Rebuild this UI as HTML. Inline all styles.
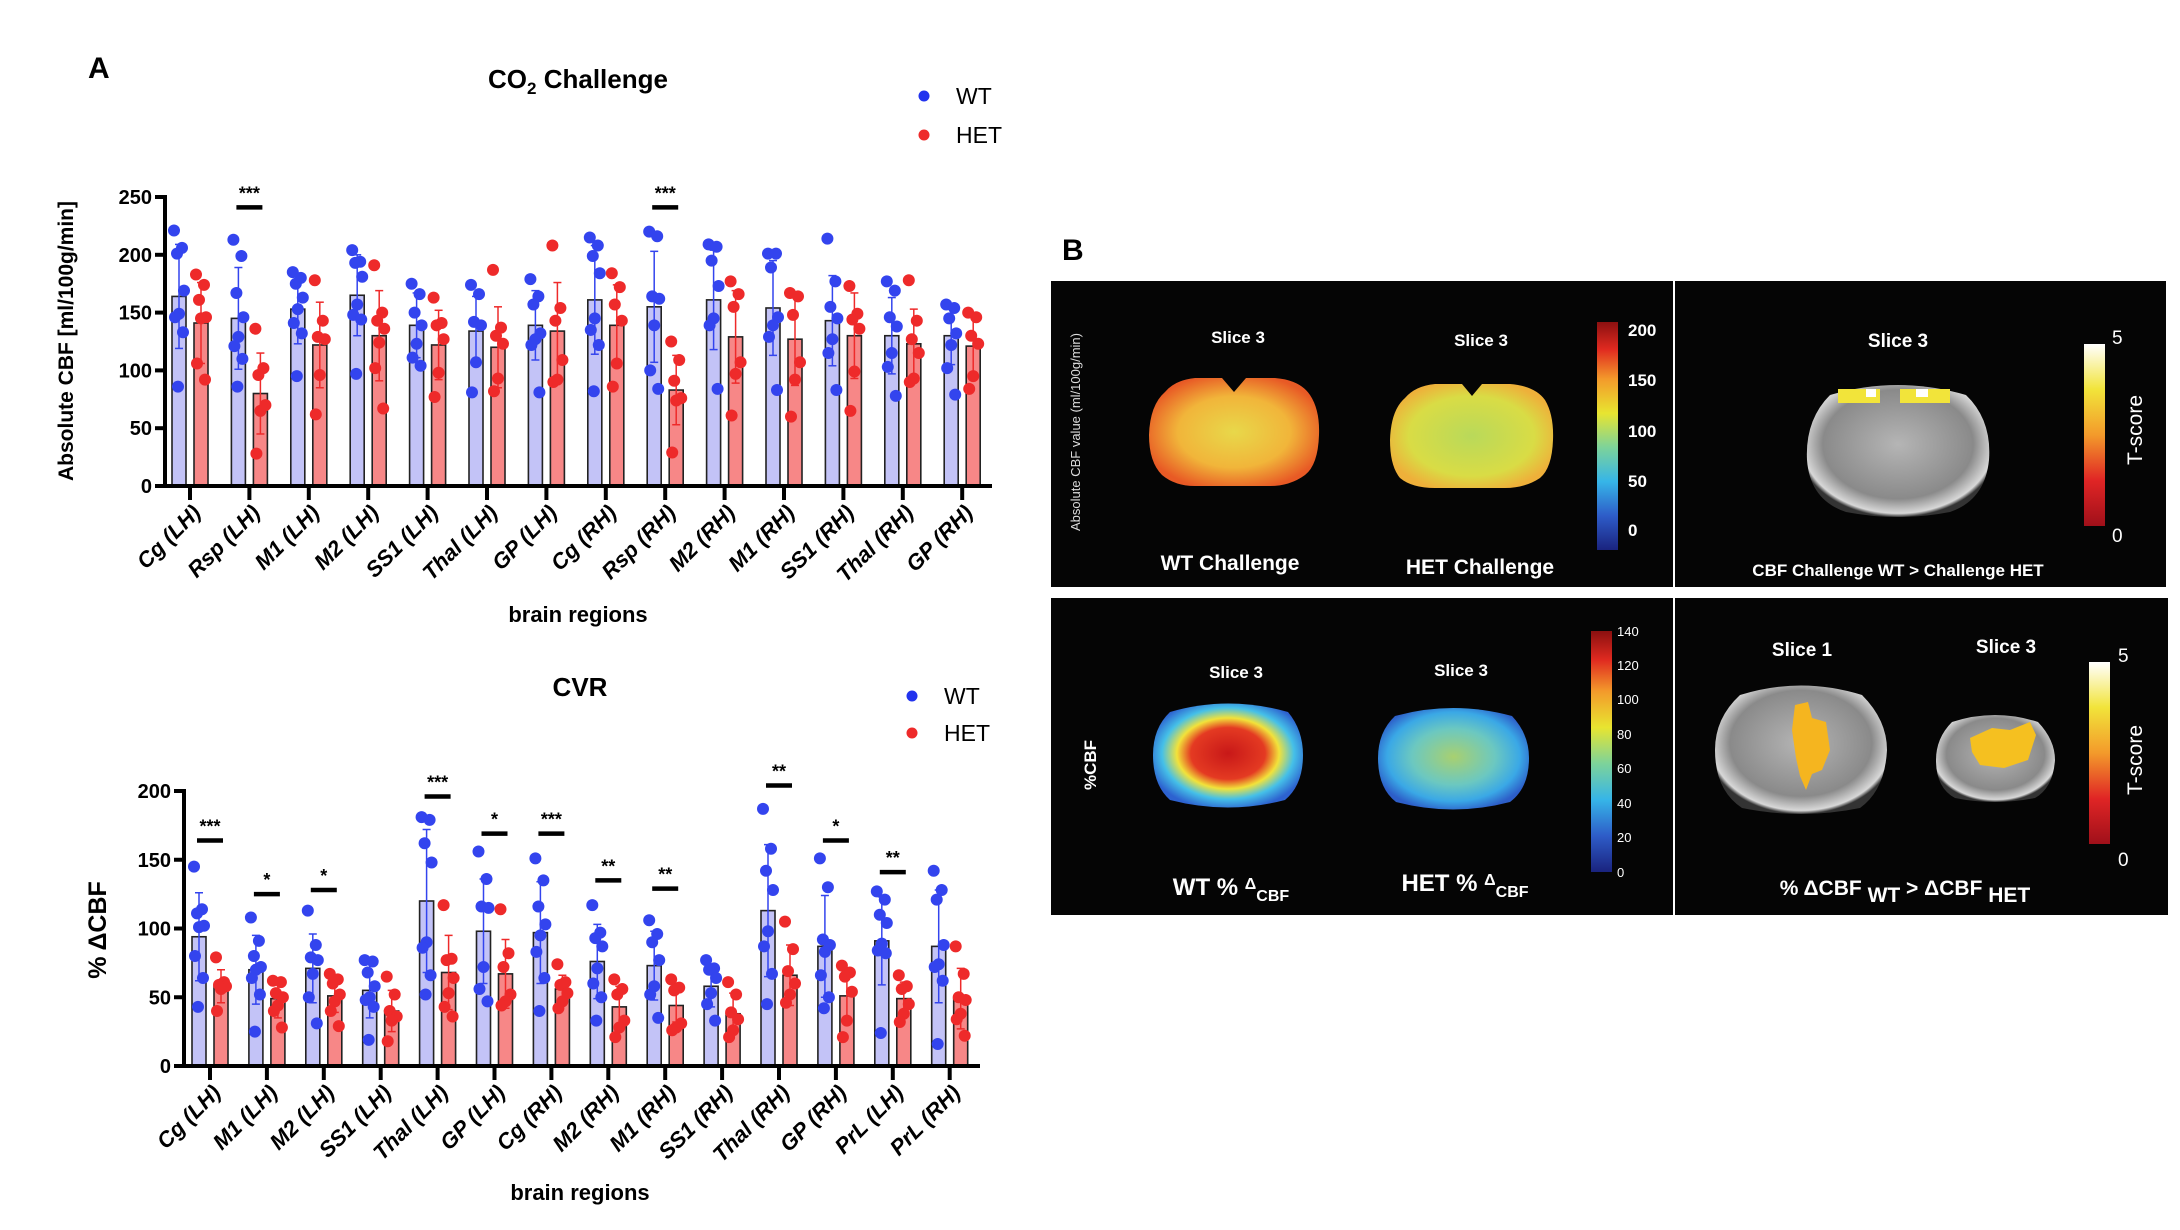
<!DOCTYPE html>
<html><head><meta charset="utf-8">
<style>
html,body{margin:0;padding:0;background:#fff;}
body{width:2180px;height:1230px;overflow:hidden;position:relative;font-family:"Liberation Sans",sans-serif;}
svg{position:absolute;left:0;top:0;}
</style></head>
<body>
<svg id="main" width="2180" height="1230" viewBox="0 0 2180 1230" xmlns="http://www.w3.org/2000/svg">
<defs>
<linearGradient id="jet" x1="0" y1="1" x2="0" y2="0">
<stop offset="0" stop-color="#1a237e"/><stop offset="0.15" stop-color="#2e5cc8"/><stop offset="0.3" stop-color="#36b5e8"/><stop offset="0.45" stop-color="#7dd39a"/><stop offset="0.6" stop-color="#e8e530"/><stop offset="0.75" stop-color="#f39a2b"/><stop offset="0.88" stop-color="#e02a20"/><stop offset="1" stop-color="#8b1010"/>
</linearGradient>
<linearGradient id="hot" x1="0" y1="1" x2="0" y2="0">
<stop offset="0" stop-color="#a0101a"/><stop offset="0.25" stop-color="#e02525"/><stop offset="0.5" stop-color="#f39a2b"/><stop offset="0.75" stop-color="#f2e43a"/><stop offset="1" stop-color="#ffffff"/>
</linearGradient>
<radialGradient id="gray" cx="0.5" cy="0.45" r="0.55">
<stop offset="0" stop-color="#b5b5b5"/><stop offset="0.75" stop-color="#8a8a8a"/><stop offset="0.95" stop-color="#d8d8d8"/><stop offset="1" stop-color="#333"/>
</radialGradient>
<radialGradient id="wtc" cx="0.5" cy="0.5" r="0.55">
<stop offset="0" stop-color="#e8d84a"/><stop offset="0.6" stop-color="#f1b53a"/><stop offset="1" stop-color="#e85a25"/>
</radialGradient>
<radialGradient id="hetc" cx="0.5" cy="0.5" r="0.55">
<stop offset="0" stop-color="#b9d95a"/><stop offset="0.7" stop-color="#d9dc45"/><stop offset="1" stop-color="#eeb03a"/>
</radialGradient>
<radialGradient id="wtp" cx="0.5" cy="0.48" r="0.55">
<stop offset="0" stop-color="#c81818"/><stop offset="0.45" stop-color="#e43a22"/><stop offset="0.62" stop-color="#f2e23a"/><stop offset="0.8" stop-color="#45c0e8"/><stop offset="1" stop-color="#2d62d0"/>
</radialGradient>
<radialGradient id="hetp" cx="0.5" cy="0.48" r="0.55">
<stop offset="0" stop-color="#a8d070"/><stop offset="0.5" stop-color="#6cc8c0"/><stop offset="0.8" stop-color="#3aa8e6"/><stop offset="1" stop-color="#2d5ec8"/>
</radialGradient>
</defs>
<g id="chartTop"></g>
<g id="chartBot"></g>

<text x="88" y="78" font-size="30" font-weight="bold">A</text>
<text x="1062" y="260" font-size="30" font-weight="bold">B</text>

<g font-family="Liberation Sans, sans-serif" fill="#fff">
<rect x="1051" y="281" width="622" height="306" fill="#050505"/>
<rect x="1675" y="281" width="491" height="306" fill="#050505"/>
<rect x="1051" y="598" width="622" height="317" fill="#050505"/>
<rect x="1675" y="598" width="493" height="317" fill="#050505"/>

<text transform="translate(1080,432) rotate(-90)" text-anchor="middle" font-size="13" fill="#ddd">Absolute CBF value (ml/100g/min)</text>
<text x="1238" y="343" text-anchor="middle" font-size="17" font-weight="bold">Slice 3</text>
<text x="1481" y="346" text-anchor="middle" font-size="17" font-weight="bold">Slice 3</text>
<path d="M1165,392 Q1175,380 1195,378 L1222,378 L1234,392 L1246,378 L1275,378 Q1300,380 1310,395 Q1320,410 1319,435 Q1318,465 1305,475 Q1290,486 1270,486 L1195,486 Q1175,486 1162,475 Q1149,462 1149,435 Q1150,405 1165,392 Z" fill="url(#wtc)"/>
<path d="M1405,398 Q1415,386 1435,384 L1462,384 L1472,396 L1482,384 L1510,384 Q1535,386 1545,400 Q1554,415 1553,440 Q1552,468 1540,478 Q1525,488 1505,488 L1435,488 Q1412,488 1400,478 Q1390,466 1390,440 Q1391,410 1405,398 Z" fill="url(#hetc)"/>
<rect x="1597" y="322" width="21" height="228" fill="url(#jet)"/>
<g font-size="17" font-weight="bold">
<text x="1628" y="336">200</text><text x="1628" y="386">150</text><text x="1628" y="437">100</text><text x="1628" y="487">50</text><text x="1628" y="536">0</text>
</g>
<text x="1230" y="570" text-anchor="middle" font-size="21" font-weight="bold">WT Challenge</text>
<text x="1480" y="574" text-anchor="middle" font-size="21" font-weight="bold">HET Challenge</text>

<text x="1898" y="347" text-anchor="middle" font-size="19" font-weight="bold">Slice 3</text>
<path d="M1830,395 Q1898,375 1966,395 Q1992,420 1989,460 Q1985,500 1950,512 Q1898,522 1846,512 Q1810,500 1807,460 Q1805,420 1830,395 Z" fill="url(#gray)"/>
<rect x="1838" y="389" width="42" height="14" fill="#f2e43a"/>
<rect x="1900" y="389" width="50" height="14" fill="#f2e43a"/>
<rect x="1866" y="389" width="10" height="8" fill="#fff"/>
<rect x="1916" y="389" width="12" height="8" fill="#fff"/>
<rect x="2084" y="344" width="21" height="182" fill="url(#hot)"/>
<text x="2112" y="344" font-size="19">5</text>
<text x="2112" y="542" font-size="19">0</text>
<text transform="translate(2142,430) rotate(-90)" text-anchor="middle" font-size="21">T-score</text>
<text x="1898" y="576" text-anchor="middle" font-size="17" font-weight="bold">CBF Challenge WT &gt; Challenge HET</text>

<text transform="translate(1096,765) rotate(-90)" text-anchor="middle" font-size="17" font-weight="bold">%CBF</text>
<text x="1236" y="678" text-anchor="middle" font-size="17" font-weight="bold">Slice 3</text>
<text x="1461" y="676" text-anchor="middle" font-size="17" font-weight="bold">Slice 3</text>
<path d="M1170,712 Q1228,695 1288,712 Q1303,730 1303,755 Q1303,785 1285,800 Q1228,815 1170,800 Q1153,785 1153,755 Q1153,728 1170,712 Z" fill="url(#wtp)"/>
<path d="M1395,716 Q1453,700 1512,716 Q1529,734 1529,758 Q1529,788 1510,802 Q1453,817 1396,802 Q1378,788 1378,758 Q1378,732 1395,716 Z" fill="url(#hetp)"/>
<rect x="1591" y="631" width="21" height="241" fill="url(#jet)"/>
<g font-size="13">
<text x="1617" y="636">140</text><text x="1617" y="670">120</text><text x="1617" y="704">100</text><text x="1617" y="739">80</text><text x="1617" y="773">60</text><text x="1617" y="808">40</text><text x="1617" y="842">20</text><text x="1617" y="877">0</text>
</g>
<text x="1231" y="895" text-anchor="middle" font-size="24" font-weight="bold">WT % <tspan baseline-shift="6" font-size="16">Δ</tspan><tspan font-size="16" dy="6">CBF</tspan></text>
<text x="1465" y="891" text-anchor="middle" font-size="24" font-weight="bold">HET % <tspan baseline-shift="6" font-size="16">Δ</tspan><tspan font-size="16" dy="6">CBF</tspan></text>

<text x="1802" y="656" text-anchor="middle" font-size="19" font-weight="bold">Slice 1</text>
<text x="2006" y="653" text-anchor="middle" font-size="19" font-weight="bold">Slice 3</text>
<path d="M1740,695 Q1801,676 1862,695 Q1887,720 1887,750 Q1885,790 1860,808 Q1801,820 1742,808 Q1715,790 1715,750 Q1715,718 1740,695 Z" fill="url(#gray)"/>
<path d="M1952,722 Q1995,708 2038,722 Q2055,740 2055,760 Q2053,788 2035,798 Q1995,806 1955,798 Q1936,788 1936,760 Q1936,738 1952,722 Z" fill="url(#gray)"/>
<path d="M1795,705 L1808,702 L1812,718 L1826,722 L1830,750 L1822,770 L1812,774 L1806,790 L1800,776 L1796,758 L1792,730 Z" fill="#f5b51f"/>
<path d="M1970,738 L1992,728 L2010,730 L2030,722 L2036,735 L2028,760 L2004,768 L1980,765 L1972,752 Z" fill="#f5c020"/>
<rect x="2089" y="662" width="21" height="182" fill="url(#hot)"/>
<text x="2118" y="662" font-size="19">5</text>
<text x="2118" y="866" font-size="19">0</text>
<text transform="translate(2142,760) rotate(-90)" text-anchor="middle" font-size="21">T-score</text>
<text x="1905" y="895" text-anchor="middle" font-size="21" font-weight="bold">% ΔCBF <tspan dy="7">WT</tspan><tspan dy="-7"> &gt; ΔCBF </tspan><tspan dy="7">HET</tspan></text>
</g>
</svg>
<script>
// ---- CO2 Challenge data ----
const topCategories = ["Cg (LH)","Rsp (LH)","M1 (LH)","M2 (LH)","SS1 (LH)","Thal (LH)","GP (LH)","Cg (RH)","Rsp (RH)","M2 (RH)","M1 (RH)","SS1 (RH)","Thal (RH)","GP (RH)"];
const topWtMean = [164,145,153,165,139,134,139,161,155,161,154,143,130,130];
const topHetMean = [141,80,122,130,122,120,134,139,83,129,127,130,123,121];
const topWtSd = [45,44,30,35,28,30,30,47,48,43,41,39,33,25];
const topHetSd = [35,35,37,39,30,35,42,35,30,40,40,37,30,25];
const topWtPoints = [[221,206,201,169,149,146,133,86],[213,199,167,146,129,121,110,86],[185,180,175,163,153,141,132,95],[204,194,193,181,157,148,144,97],[175,166,150,139,123,111,104],[174,166,142,139,107,81],[179,164,157,132,127,122,81],[215,208,199,184,145,135,122,82],[220,216,164,162,139,100,84],[209,207,195,173,145,139,84],[201,201,189,146,139,129,83],[214,177,155,145,127,115,83],[177,169,146,138,115,103,78],[157,154,145,132,122,102,79]];
const topHetPoints = [[183,174,161,146,145,106,92],[136,102,96,70,65,28],[178,143,129,127,96,62],[191,150,143,136,124,102,67],[163,141,139,127,98,77],[187,137,130,123,93,82],[208,154,143,109,92,90],[184,172,157,143,106,86],[125,109,91,76,74,29],[177,166,155,107,97,61],[167,164,148,107,92,60],[173,149,144,136,99,65],[178,143,127,115,93,90],[150,146,130,123,95,84]];
const topSigLabels = ["","***","","","","","","","***","","","","",""];
const topSigValues = [0,241,0,0,0,0,0,0,241,0,0,0,0,0];
const topYTicks = [0,50,100,150,200,250];

// ---- CVR data ----
const botCategories = ["Cg (LH)","M1 (LH)","M2 (LH)","SS1 (LH)","Thal (LH)","GP (LH)","Cg (RH)","M2 (RH)","M1 (RH)","SS1 (RH)","Thal (RH)","GP (RH)","PrL (LH)","PrL (RH)"];
const botWtMean = [94,70,71,55,120,98,97,76,73,58,113,87,91,87];
const botHetMean = [58,49,51,40,68,67,56,43,44,38,66,51,49,49];
const botWtSd = [32,25,25,20,52,38,37,27,25,15,48,37,32,41];
const botHetSd = [12,14,12,15,27,25,10,15,12,15,22,17,12,22];
const botWtPoints = [[145,114,111,102,101,80,64,43],[108,91,80,72,70,64,52,25],[113,88,79,77,67,50,31],[77,76,68,58,50,48,43,19],[181,179,162,148,90,86,66,52],[156,136,116,115,72,56,47],[151,135,116,103,95,83,64,40],[117,97,93,87,71,60,50,33],[106,96,90,77,58,52,35],[77,71,70,64,53,45,33],[187,158,142,128,98,87,67,45],[151,130,92,88,83,66,50,42],[127,121,110,104,89,84,82,24],[142,128,121,88,74,72,62,16]];
const botHetPoints = [[79,61,59,58,56,40],[62,61,53,50,44,40,28],[67,63,60,52,47,40,29],[65,52,40,36,33,18],[117,78,77,64,53,43,36],[114,82,72,52,47,44],[74,61,59,53,47,42],[63,56,52,33,28,21],[63,57,55,31,28,26],[61,52,39,34,26,21],[105,85,69,60,52,46],[73,68,65,54,33,21],[66,58,56,45,38,32],[87,67,50,48,38,34,22]];
const botSigLabels = ["***","*","*","","***","*","***","**","**","","**","*","**",""];
const botSigValues = [164,125,128,0,196,169,169,135,129,0,204,164,141,0];
const botYTicks = [0,50,100,150,200];

const NS = "http://www.w3.org/2000/svg";
function mk(parent, tag, attrs, text){
  const e = document.createElementNS(NS, tag);
  for (const k in attrs) e.setAttribute(k, attrs[k]);
  if (text !== undefined) e.textContent = text;
  parent.appendChild(e);
  return e;
}
const jit = [-5,3,-2,5,0,-4,4,-1];

function drawChart(g, cfg, cats, wtM, hetM, wtSd, hetSd, wtP, hetP, sigL, sigV, yTicks){
  const yScale = v => cfg.y0 - (v - 0) / (cfg.yMax) * (cfg.y0 - cfg.yTop);
  const xScale = i => cfg.x0 + cfg.first + i * cfg.step;
  const t = mk(g, "text", {x: cfg.titleX, y: cfg.titleY, "text-anchor":"middle", "font-size":26, "font-weight":"bold"});
  
  
  if (cfg.sub) { t.textContent = "CO"; mk(t,"tspan",{"font-size":17, dy:6}, "2"); mk(t,"tspan",{dy:-6}, " Challenge"); }
  else t.textContent = cfg.title;
  [["WT","#2233ee",0],["HET","#ee2a2a",1]].forEach(([lab,col,k])=>{
    const lg = mk(g, "g", {});
    
    
    mk(lg, "circle", {cx: cfg.legX, cy: cfg.legY + k*cfg.legGap, r:5.5, fill: col});
    mk(lg, "text", {x: cfg.legX + 32, y: cfg.legY + k*cfg.legGap + 8, "font-size":23}, lab);
  });
  cats.forEach((c,i)=>{
    const cx = xScale(i);
    [[wtM,wtSd,wtP,"#c3c3f7","#3344ee",-11,"wt"],[hetM,hetSd,hetP,"#f78787","#ee2a2a",11,"het"]].forEach(([M,S,P,fill,col,off,nm])=>{
      const bx = cx + off;
      const bar = mk(g, "rect", {x: bx-7, y: yScale(M[i]), width: 14, height: cfg.y0 - yScale(M[i]), fill: fill, stroke:"#222", "stroke-width":1.6});
      
      
      const eg = mk(g, "g", {stroke: col, "stroke-width":1.5});
      
      
      const hi = yScale(M[i]+S[i]), lo = yScale(Math.max(0,M[i]-S[i]));
      mk(eg, "line", {x1:bx, x2:bx, y1:hi, y2:lo});
      mk(eg, "line", {x1:bx-4, x2:bx+4, y1:hi, y2:hi});
      mk(eg, "line", {x1:bx-4, x2:bx+4, y1:lo, y2:lo});
      P[i].forEach((v,j)=>{
        const d = mk(g, "circle", {cx: bx + jit[j%8], cy: yScale(v), r: 6, fill: col});
        
        
      });
    });
    const tk = mk(g, "line", {x1:cx, x2:cx, y1:cfg.y0, y2:cfg.y0+14, stroke:"#000", "stroke-width":4});
    
    
    const lbl = mk(g, "text", {transform:`translate(${cx+12},${cfg.y0+28}) rotate(-45)`, "text-anchor":"end", "font-size":22, "font-weight":"bold", "font-style":"italic"}, c);
    
    
    if (sigL[i]) {
      const sg = mk(g, "g", {});
      
      
      const sy = yScale(sigV[i]);
      mk(sg, "line", {x1:cx-13, x2:cx+13, y1:sy, y2:sy, stroke:"#000", "stroke-width":4.5});
      mk(sg, "text", {x:cx, y:sy-8, "text-anchor":"middle", "font-size":18, "font-weight":"bold"}, sigL[i]);
    }
  });
  const ya = mk(g, "line", {x1:cfg.x0, x2:cfg.x0, y1:cfg.yTop-2, y2:cfg.y0+2, stroke:"#000", "stroke-width":4});
  
  
  const xa = mk(g, "line", {x1:cfg.x0-2, x2:cfg.xEnd, y1:cfg.y0, y2:cfg.y0, stroke:"#000", "stroke-width":4});
  
  
  yTicks.forEach(v=>{
    const y = yScale(v);
    const tl = mk(g, "line", {x1:cfg.x0-10, x2:cfg.x0, y1:y, y2:y, stroke:"#000", "stroke-width":4});
    
    
    const tt = mk(g, "text", {x:cfg.x0-13, y:y+7, "text-anchor":"end", "font-size":20, "font-weight":"bold"}, String(v));
    
    
  });
  const yt = mk(g, "text", {transform:`translate(${cfg.yLabX},${cfg.yLabY}) rotate(-90)`, "text-anchor":"middle", "font-size":cfg.yLabSize, "font-weight":"bold"}, cfg.yLab);
  
  
  const xt = mk(g, "text", {x:cfg.titleX, y:cfg.xLabY, "text-anchor":"middle", "font-size":22, "font-weight":"bold"}, "brain regions");
  
  
}

drawChart(document.getElementById("chartTop"),
  {x0:165, xEnd:992, y0:486, yTop:197, yMax:250, first:25, step:59.4, titleX:578, titleY:88, sub:true,
   legX:924, legY:96, legGap:39, yLabX:73, yLabY:341, yLab:"Absolute CBF [ml/100g/min]", yLabSize:21, xLabY:622},
  topCategories, topWtMean, topHetMean, topWtSd, topHetSd, topWtPoints, topHetPoints, topSigLabels, topSigValues, topYTicks);

drawChart(document.getElementById("chartBot"),
  {x0:184, xEnd:980, y0:1066, yTop:791, yMax:200, first:26, step:56.9, titleX:580, titleY:696, title:"CVR",
   legX:912, legY:696, legGap:37, yLabX:106, yLabY:930, yLab:"% ΔCBF", yLabSize:25, xLabY:1200},
  botCategories, botWtMean, botHetMean, botWtSd, botHetSd, botWtPoints, botHetPoints, botSigLabels, botSigValues, botYTicks);
</script>
</body></html>
